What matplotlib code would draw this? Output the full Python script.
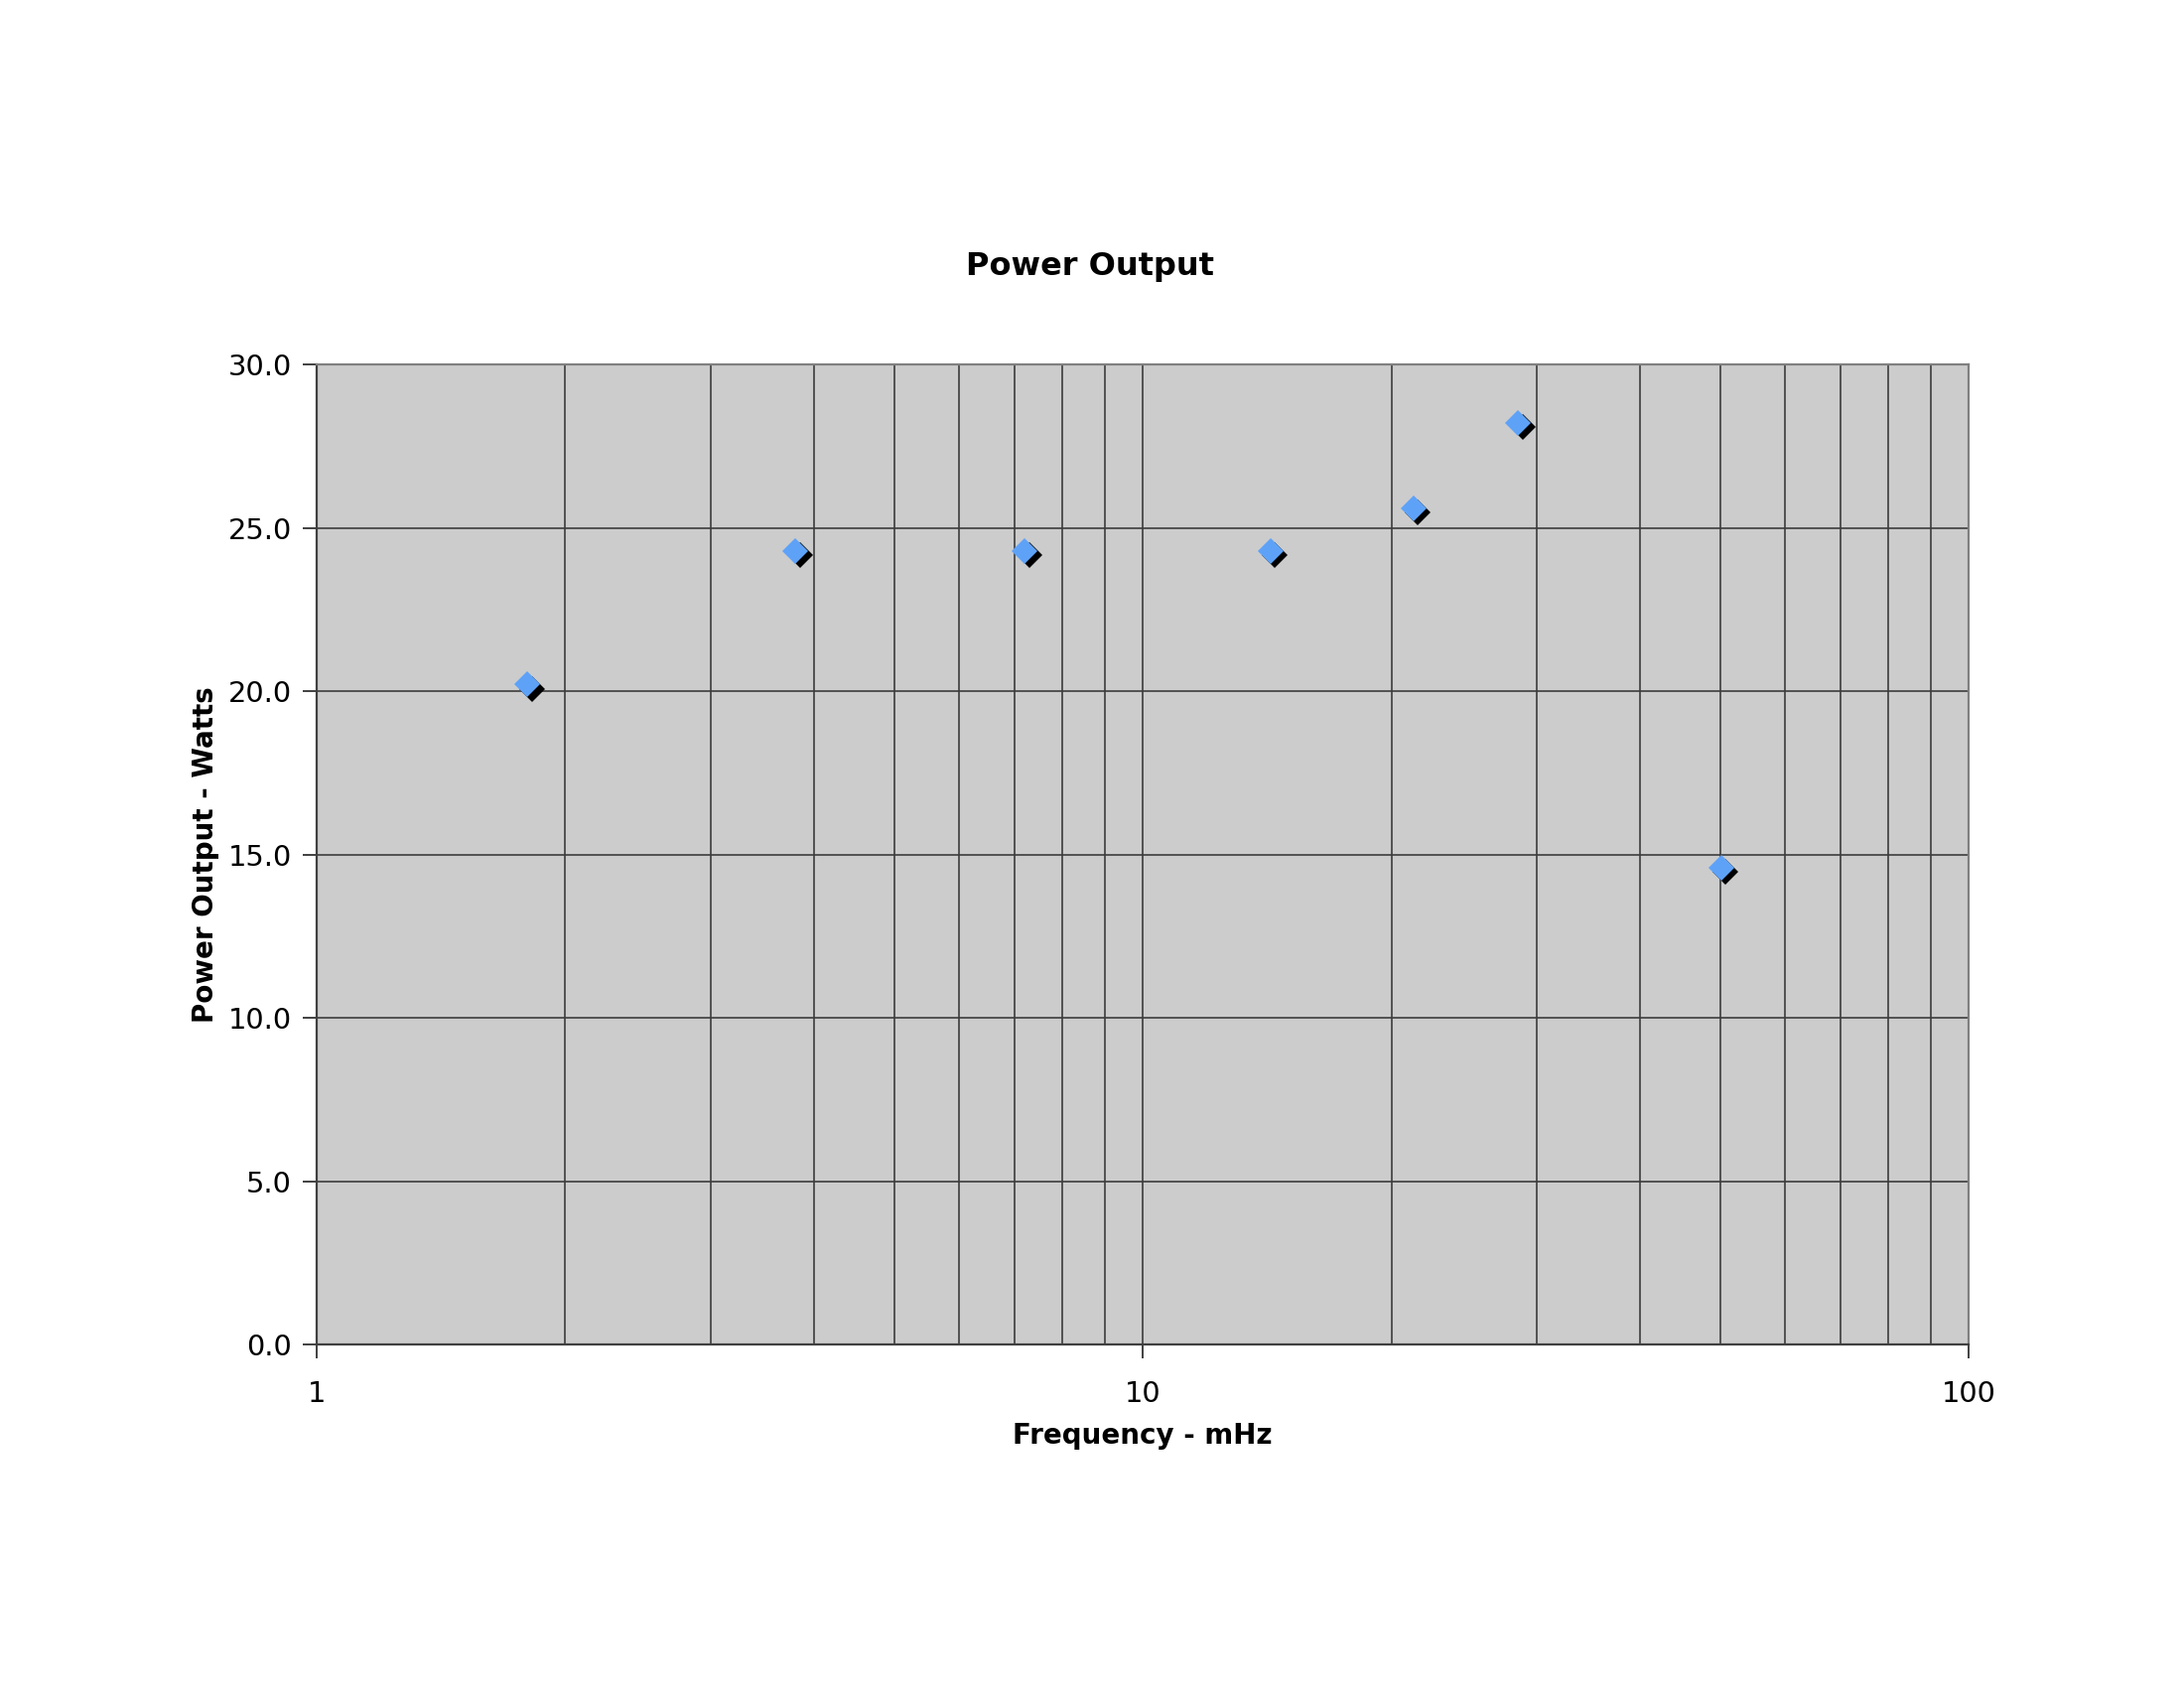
import numpy as np
import matplotlib
matplotlib.use("Agg")
import matplotlib.pyplot as plt
from matplotlib.transforms import offset_copy
from matplotlib.ticker import FixedLocator, FixedFormatter, FormatStrFormatter, NullFormatter

freq = [1.8, 3.8, 7.2, 14.3, 21.3, 28.5, 50.2]
watts = [20.2, 24.3, 24.3, 24.3, 25.6, 28.2, 14.6]

plt.rcParams["font.family"] = ["DejaVu Sans"]

fig = plt.figure(figsize=(11, 8.5), dpi=200)
ax = fig.add_axes([0.145, 0.2035, 0.7564, 0.5806])
ax.set_facecolor("#cccccc")

ax.set_xscale("log")
ax.set_xlim(1, 100)
ax.set_ylim(0, 30)

# shadow first, then the marker on top
shadow = offset_copy(ax.transData, fig=fig, x=1.5, y=-1.5, units="points")
ax.plot(freq, watts, ls="none", marker="D", ms=6.4, mfc="black", mec="black",
        mew=0, transform=shadow, zorder=3)
ax.plot(freq, watts, ls="none", marker="D", ms=6.4, mfc="#5ea2f8", mec="#5ea2f8",
        mew=0, zorder=4)

ax.xaxis.set_major_locator(FixedLocator([1, 10, 100]))
ax.xaxis.set_major_formatter(FixedFormatter(["1", "10", "100"]))
minor = [m * d for d in (1, 10) for m in range(2, 10)]
ax.xaxis.set_minor_locator(FixedLocator(minor))
ax.xaxis.set_minor_formatter(NullFormatter())
ax.yaxis.set_major_locator(FixedLocator(np.arange(0, 30.1, 5)))
ax.yaxis.set_major_formatter(FormatStrFormatter("%.1f"))

ax.grid(True, which="both", color="#3c3c3c", lw=0.6)
ax.set_axisbelow(True)
ax.tick_params(axis="both", which="major", direction="out", length=5,
               width=0.7, color="#404040", labelsize=10.4)
ax.tick_params(axis="y", pad=4)
ax.tick_params(axis="x", pad=8)
ax.tick_params(axis="x", which="minor", length=0)
for s in ax.spines.values():
    s.set_color("#808080")
    s.set_linewidth(0.8)
ax.spines["left"].set_color("#404040")
ax.spines["bottom"].set_color("#404040")

fig.text(0.499, 0.842, "Power Output", ha="center", va="center",
         fontsize=11.5, fontweight="bold")
ax.set_xlabel("Frequency - mHz", fontsize=10, fontweight="bold", labelpad=5)
ax.set_ylabel("Power Output - Watts", fontsize=10, fontweight="bold", labelpad=3)

fig.savefig("out.png", dpi=200)
